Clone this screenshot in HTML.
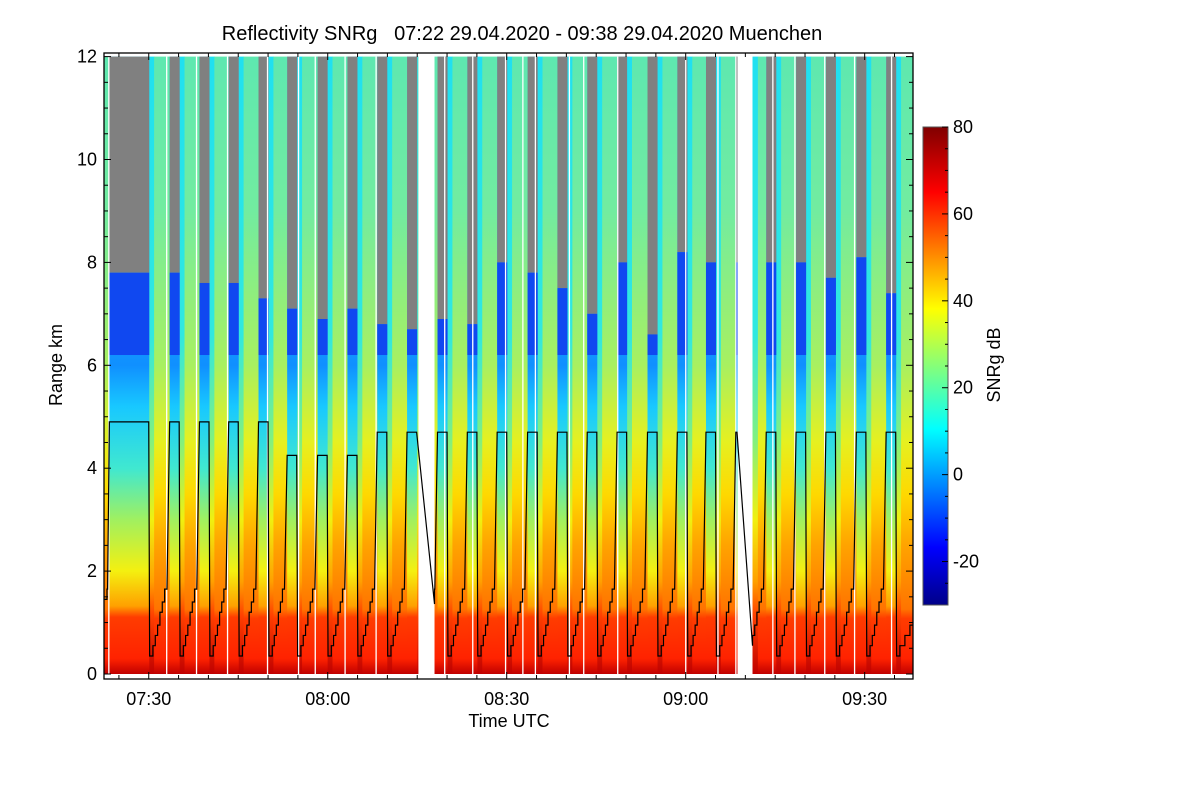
<!DOCTYPE html>
<html><head><meta charset="utf-8"><style>
body{margin:0;background:#fff;}
svg text{font-family:"Liberation Sans",Arial,sans-serif;fill:#000;}
</style></head><body>
<svg id="chart" width="1200" height="800" viewBox="0 0 1200 800" xmlns="http://www.w3.org/2000/svg">
<defs>
<linearGradient id="gScan" x1="0" y1="0" x2="0" y2="1">
<stop offset="0" stop-color="#5ee8b0"/><stop offset="0.25" stop-color="#72eca0"/><stop offset="0.5" stop-color="#a8f060"/>
<stop offset="0.625" stop-color="#e6f020"/><stop offset="0.71" stop-color="#ffd800"/><stop offset="0.79" stop-color="#ffa400"/>
<stop offset="0.895" stop-color="#ff7400"/><stop offset="0.91" stop-color="#ff3c00"/><stop offset="0.975" stop-color="#ff2200"/><stop offset="1" stop-color="#c00000"/>
</linearGradient>
<linearGradient id="gVert" x1="0" y1="0" x2="0" y2="1">
<stop offset="0" stop-color="#30d8ff"/><stop offset="0.5" stop-color="#1090ff"/><stop offset="0.567" stop-color="#18c8ff"/>
<stop offset="0.667" stop-color="#40e8d0"/><stop offset="0.75" stop-color="#a0f060"/><stop offset="0.833" stop-color="#f4f010"/>
<stop offset="0.89" stop-color="#ffa000"/><stop offset="0.908" stop-color="#ff3c00"/><stop offset="0.975" stop-color="#ff2200"/><stop offset="1" stop-color="#c00000"/>
</linearGradient>
<linearGradient id="gCyan" x1="0" y1="0" x2="0" y2="1">
<stop offset="0" stop-color="#20e0f0"/><stop offset="0.45" stop-color="#30e8e0"/><stop offset="0.62" stop-color="#80f080"/>
<stop offset="0.75" stop-color="#f0f010"/><stop offset="0.85" stop-color="#ffa000"/><stop offset="0.905" stop-color="#ff4000"/><stop offset="1" stop-color="#c00000"/>
</linearGradient>
<linearGradient id="gJet" x1="0" y1="1" x2="0" y2="0">
<stop offset="0" stop-color="#000088"/><stop offset="0.12" stop-color="#0000ff"/><stop offset="0.368" stop-color="#00ffff"/>
<stop offset="0.62" stop-color="#ffff00"/><stop offset="0.864" stop-color="#ff0000"/><stop offset="1" stop-color="#800000"/>
</linearGradient>
</defs>
<g id="heat"></g>
<g id="lines"></g>
<path id="elev" fill="none" stroke="#000" stroke-width="1.2"/>
<g id="axes"></g>
<text x="522" y="40" font-size="20" text-anchor="middle" xml:space="preserve">Reflectivity SNRg   07:22 29.04.2020 - 09:38 29.04.2020 Muenchen</text>
<text x="509" y="727" font-size="18" text-anchor="middle">Time UTC</text>
<text x="0" y="0" font-size="18" text-anchor="middle" transform="translate(62,365) rotate(-90)">Range km</text>
<rect x="923" y="127" width="25" height="478" fill="url(#gJet)" stroke="#555" stroke-width="1"/>
<g id="cb"></g>
<text x="0" y="0" font-size="18" text-anchor="middle" transform="translate(1000,365) rotate(-90)">SNRg dB</text>
</svg>
<script>
// data (minutes after 07:00, km, dB)
const plateauStart=[23.4,33.5,38.5,43.4,48.4,53.2,58.3,63.3,68.3,73.3,78.4,83.4,88.4,93.5,98.5,103.5,108.5,113.6,118.6,123.4,128.4,133.5,138.5,143.5,148.6,153.6];
const plateauEnd=[30.0,35.1,40.1,45.0,50.0,54.8,59.9,64.9,69.9,74.9,80.0,85.0,90.0,95.1,100.1,105.1,110.1,115.2,120.2,125.0,128.6,135.1,140.1,145.1,150.2,155.2];
const plateauHeight=[4.9,4.9,4.9,4.9,4.9,4.25,4.25,4.25,4.7,4.7,4.7,4.7,4.7,4.7,4.7,4.7,4.7,4.7,4.7,4.7,4.7,4.7,4.7,4.7,4.7,4.7];
const cloudTop=[7.8,7.8,7.6,7.6,7.3,7.1,6.9,7.1,6.8,6.7,6.9,6.8,8.0,7.8,7.5,7.0,8.0,6.6,8.2,8.0,8.0,8.0,8.0,7.7,8.1,7.4];
const gapStart=[75.1,128.6];
const gapEnd=[77.9,131.2];
const gapLow=[1.36,0.55];
const stepLevels=[0.35,0.55,0.75,0.95,1.2,1.4,1.65];
const whiteLines=[23.2,32.9,37.9,43.1,49.8,55.0,57.8,62.8,68.0,79.5,84.2,89.7,92.6,94.7,100.4,102.8,108.5,119.9,125.3,128.3,134.5,138.2,143.2,148.2,154.4];
const yTicks=[0,2,4,6,8,10,12];
const xTicks=[30,60,90,120,150];
const xTickLabels=["07:30","08:00","08:30","09:00","09:30"];
const cbTicks=[-20,0,20,40,60,80];

const T0=22.5,T1=158.1,X0=104,X1=913;
const x=t=>X0+(t-T0)*(X1-X0)/(T1-T0);
const y=k=>674-k*51.45;
const cy=d=>605-(d+30)*478/110;
const NS='http://www.w3.org/2000/svg';
function mk(tag,attrs,parent){const e=document.createElementNS(NS,tag);for(const k in attrs)e.setAttribute(k,attrs[k]);parent.appendChild(e);return e;}
const heat=document.getElementById('heat');
function cutGaps(a,b){let segs=[[a,b]];
  for(let g=0;g<gapStart.length;g++){segs=segs.flatMap(([p,q])=>{if(gapEnd[g]<=p||gapStart[g]>=q)return [[p,q]];const r=[];if(gapStart[g]>p)r.push([p,gapStart[g]]);if(gapEnd[g]<q)r.push([gapEnd[g],q]);return r;});}
  return segs;}
// scanning segments
let prevEnd=T0;
for(let i=0;i<=plateauStart.length;i++){
  const s=prevEnd, e=(i<plateauStart.length?plateauStart[i]:T1);
  if(e>s){
    cutGaps(s,e).forEach(([a,b],j)=>{
      const cyW=(i>0&&j===0)?Math.min(0.9,b-a):0;
      if(cyW>0){const r=mk('rect',{x:x(a),y:y(12),width:x(a+cyW)-x(a)+0.5,height:y(0)-y(12),fill:'url(#gCyan)'},heat);
        }
      const r=mk('rect',{x:x(a+cyW),y:y(12),width:Math.max(0,x(b)-x(a+cyW))+0.5,height:y(0)-y(12),fill:'url(#gScan)'},heat);
      
      
    });
  }
  if(i<plateauStart.length) prevEnd=plateauEnd[i];
}
// plateau (vertical) columns
for(let i=0;i<plateauStart.length;i++){
  cutGaps(plateauStart[i],plateauEnd[i]).forEach(([a,b])=>{
    const w=x(b)-x(a)+0.5;
    let r=mk('rect',{x:x(a),y:y(12),width:w,height:y(0)-y(12),fill:'url(#gVert)'},heat);
    
    
    r=mk('rect',{x:x(a),y:y(12),width:w,height:y(cloudTop[i])-y(12),fill:'#808080'},heat);
    
    
    r=mk('rect',{x:x(a),y:y(cloudTop[i]),width:w,height:y(6.2)-y(cloudTop[i]),fill:'#1048f0'},heat);
    
    
  });
}
// white lines
const lines=document.getElementById('lines');
whiteLines.forEach(t=>{const l=mk('rect',{x:x(t),y:y(12),width:1.3,height:y(0)-y(12),fill:'#fff'},lines);
  });
// elevation line
let d=`M${x(T0)},${y(1.45)} L${x(23.0)},${y(1.45)} L${x(23.0)},${y(1.65)} L${x(23.1)},${y(1.65)}`;
for(let i=0;i<plateauStart.length;i++){
  const P=plateauStart[i],E=plateauEnd[i],H=plateauHeight[i];
  d+=` L${x(P)},${y(H)} L${x(E)},${y(H)}`;
  const g=gapStart.findIndex(v=>Math.abs(v-E)<0.5);
  const next=i+1<plateauStart.length?plateauStart[i+1]:T1+3.3;
  let lowStart, levels;
  if(g>=0){d+=` L${x(gapEnd[g])},${y(gapLow[g])}`;lowStart=gapEnd[g];levels=stepLevels.filter(v=>v>gapLow[g]+0.05);}
  else{d+=` L${x(E+0.15)},${y(stepLevels[0])}`;lowStart=E+0.7;levels=stepLevels.slice(1);d+=` L${x(lowStart)},${y(stepLevels[0])}`;}
  const endSteps=next-0.45;
  const n=levels.length;
  for(let k=0;k<n;k++){
    const tk=lowStart+(endSteps-lowStart)*k/n;
    const tn=lowStart+(endSteps-lowStart)*(k+1)/n;
    if(tk>T1)break;
    d+=` L${x(tk)},${y(levels[k])} L${x(Math.min(tn,T1))},${y(levels[k])}`;
  }
}
document.getElementById('elev').setAttribute('d',d);
// axes
const ax=document.getElementById('axes');
mk('rect',{x:X0,y:53,width:X1-X0,height:679-53,fill:'none',stroke:'#000','stroke-width':1.3},ax);
for(let k=0;k<=12;k+=0.5){const len=(k%2===0)?7:4;
  mk('line',{x1:X0,x2:X0+len,y1:y(k),y2:y(k),stroke:'#000'},ax);
  mk('line',{x1:X1,x2:X1-len,y1:y(k),y2:y(k),stroke:'#000'},ax);}
yTicks.forEach(k=>{const t=mk('text',{x:97,y:y(k)+6,'font-size':18,'text-anchor':'end'},ax);t.textContent=k;
  });
for(let t=25;t<=155;t+=5){const len=(t%30===0)?7:4;
  mk('line',{x1:x(t),x2:x(t),y1:679,y2:679-len,stroke:'#000'},ax);
  mk('line',{x1:x(t),x2:x(t),y1:53,y2:53+len,stroke:'#000'},ax);}
xTicks.forEach((t,i)=>{const e=mk('text',{x:x(t),y:705,'font-size':18,'text-anchor':'middle'},ax);e.textContent=xTickLabels[i];
  });
const cb=document.getElementById('cb');
for(let v=-25;v<=80;v+=5){const len=(v%20===0)?6:3;mk('line',{x1:948,x2:948-len,y1:cy(v),y2:cy(v),stroke:'#000'},cb);}
cbTicks.forEach(v=>{const e=mk('text',{x:953,y:cy(v)+6,'font-size':18},cb);e.textContent=v;
  });
</script>
</body></html>
